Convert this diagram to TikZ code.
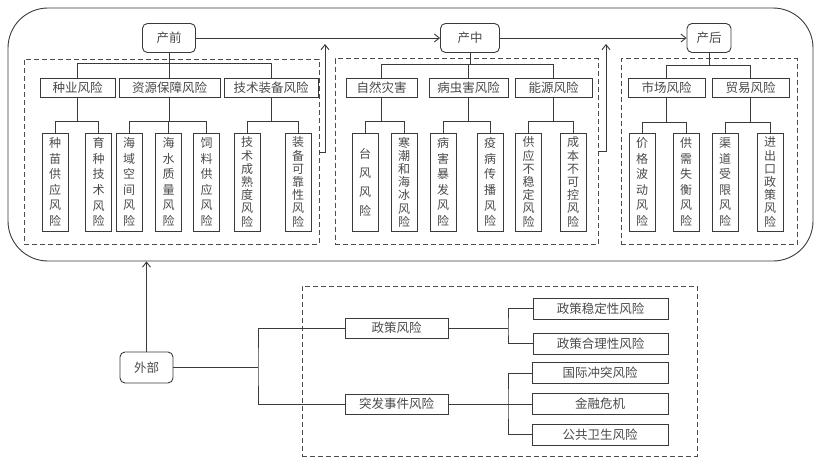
\documentclass[tikz,border=0pt]{standalone}
\usepackage{fontspec}
\newfontfamily\cjk{Noto Sans CJK SC}
\usetikzlibrary{arrows.meta}
\definecolor{ln}{HTML}{3A3A3A}
\definecolor{tx}{HTML}{4A4A4A}
\tikzset{
  base/.style={draw=ln, line width=0.9pt, text=tx, inner sep=1pt},
  stage/.style={base, rounded corners=5pt, minimum height=29pt, font=\cjk\fontsize{12.5}{14}\selectfont},
  cat/.style={base, minimum height=19pt, font=\cjk\fontsize{12.5}{14}\selectfont},
  leaf/.style={base, minimum width=26pt, minimum height=98pt, align=center, inner sep=0.5pt, font=\cjk\fontsize{12}{#1}\selectfont},
  leaf/.default=15.6,
  outbox/.style={base, minimum width=135pt, minimum height=21pt, font=\cjk\fontsize{12.5}{14}\selectfont},
  grp/.style={draw=black!70, dash pattern=on 5pt off 3pt, line width=0.8pt},
  link/.style={draw=ln, line width=0.9pt},
  arr/.style={link, -{Straight Barb[length=5pt,width=8pt]}},
}
\begin{document}
\begin{tikzpicture}[x=1pt, y=-1pt]
\useasboundingbox (0,0) rectangle (821,467);
% outer frame and dashed groups
\node[draw=ln, line width=0.9pt, rounded corners=40pt, minimum width=805pt, minimum height=253pt] (frame) at (410.5,134.5) {};
\node[grp, minimum width=295pt, minimum height=185pt] (g1) at (171.5,151.5) {};
\node[grp, minimum width=263pt, minimum height=186pt] (g2) at (466.5,151.5) {};
\node[grp, minimum width=176pt, minimum height=186pt] (g3) at (709,151.5) {};
\node[grp, minimum width=395pt, minimum height=170pt] (g4) at (499.5,371) {};

% stages
\node[stage, minimum width=53pt] (qian) at (169,38) {产前};
\node[stage, minimum width=59pt] (zhong) at (470,38) {产中};
\node[stage, minimum width=44pt] (hou) at (709,38) {产后};
\draw[arr] (qian.east) -- (zhong.west);
\draw[arr] (zhong.east) -- (hou.west);
\coordinate (t1) at (325,44);
\coordinate (t2) at (606,44);
\draw[arr] (g1.east |- 0,152) -| (t1);
\draw[arr] (g2.east |- 0,151) -| (t2);

% categories
\node[cat, minimum width=75pt] (zy) at (77.5,87.5) {种业风险};
\node[cat, minimum width=101pt] (zybz) at (169.5,87.5) {资源保障风险};
\node[cat, minimum width=94pt] (jszb) at (271,87.5) {技术装备风险};
\node[cat, minimum width=71pt] (zrzh) at (381.5,87.5) {自然灾害};
\node[cat, minimum width=79pt] (bch) at (468.5,87.5) {病虫害风险};
\node[cat, minimum width=77pt] (ny) at (553.5,87.5) {能源风险};
\node[cat, minimum width=77pt] (sc) at (666.5,87.5) {市场风险};
\node[cat, minimum width=77pt] (my) at (750.5,87.5) {贸易风险};

% leaves
\node[leaf] (zmgy) at (55,182) {种\\苗\\供\\应\\风\\险};
\node[leaf] (yzjs) at (98.5,182) {育\\种\\技\\术\\风\\险};
\node[leaf] (hykj) at (129,182) {海\\域\\空\\间\\风\\险};
\node[leaf] (hszl) at (168.5,182) {海\\水\\质\\量\\风\\险};
\node[leaf] (slgy) at (206.5,182) {饲\\料\\供\\应\\风\\险};
\node[leaf=13.2] (jscs) at (247,182) {技\\术\\成\\熟\\度\\风\\险};
\node[leaf=13.2] (zbkk) at (298,182) {装\\备\\可\\靠\\性\\风\\险};
\node[leaf=19] (tfyx) at (365,182) {台\\风\\风\\险};
\node[leaf=13.2] (hchb) at (404,182) {寒\\潮\\和\\海\\冰\\风\\险};
\node[leaf] (bhbf) at (443,182) {病\\害\\暴\\发\\风\\险};
\node[leaf] (ybcb) at (490,182) {疫\\病\\传\\播\\风\\险};
\node[leaf=13.2] (gybw) at (528.5,182) {供\\应\\不\\稳\\定\\风\\险};
\node[leaf=13.2] (cbbk) at (573,182) {成\\本\\不\\可\\控\\风\\险};
\node[leaf] (jgbd) at (642,182) {价\\格\\波\\动\\风\\险};
\node[leaf] (gxsh) at (686,182) {供\\需\\失\\衡\\风\\险};
\node[leaf] (qdsx) at (725,182) {渠\\道\\受\\限\\风\\险};
\node[leaf=13.2] (jckz) at (770,182) {进\\出\\口\\政\\策\\风\\险};

% stage -> category
\draw[link] (qian.south) -- (qian.south |- 0,63);
\draw[link] (zy.north) |- (jszb.north |- 0,63) -- (jszb.north);
\draw[link] (zybz.north) -- (zybz.north |- 0,63);
\draw[link] (zhong.south) -- (zhong.south |- 0,64);
\draw[link] (zrzh.north) |- (ny.north |- 0,64) -- (ny.north);
\draw[link] (bch.north) -- (bch.north |- 0,64);
\draw[link] (hou.south) -- (hou.south |- 0,65);
\draw[link] (sc.north) |- (my.north |- 0,65) -- (my.north);

% category -> leaves
\draw[link] (zy.south) -- (zy.south |- 0,121);
\draw[link] (zmgy.north) |- (yzjs.north |- 0,121) -- (yzjs.north);
\draw[link] (zybz.south) -- (zybz.south |- 0,121);
\draw[link] (hykj.north) |- (slgy.north |- 0,121) -- (slgy.north);
\draw[link] (hszl.north) -- (hszl.north |- 0,121);
\draw[link] (jszb.south) -- (jszb.south |- 0,121);
\draw[link] (jscs.north) |- (zbkk.north |- 0,121) -- (zbkk.north);
\draw[link] (zrzh.south) -- (zrzh.south |- 0,121);
\draw[link] (tfyx.north) |- (hchb.north |- 0,121) -- (hchb.north);
\draw[link] (bch.south) -- (bch.south |- 0,121);
\draw[link] (bhbf.north) |- (ybcb.north |- 0,121) -- (ybcb.north);
\draw[link] (ny.south) -- (ny.south |- 0,121);
\draw[link] (gybw.north) |- (cbbk.north |- 0,121) -- (cbbk.north);
\draw[link] (sc.south) -- (sc.south |- 0,122);
\draw[link] (jgbd.north) |- (gxsh.north |- 0,122) -- (gxsh.north);
\draw[link] (my.south) -- (my.south |- 0,122);
\draw[link] (qdsx.north) |- (jckz.north |- 0,122) -- (jckz.north);

% external risks
\node[stage, minimum width=53pt, minimum height=31pt] (wb) at (146.5,367.5) {外部};
\draw[arr] (wb.north) -- (wb.north |- frame.south);
\node[cat, minimum width=103pt, minimum height=20pt] (zc) at (396.5,328) {政策风险};
\node[cat, minimum width=103pt, minimum height=20pt] (tfsj) at (396.5,404) {突发事件风险};
\node[outbox] (zcwd) at (600.5,308.5) {政策稳定性风险};
\node[outbox] (zcql) at (600.5,343.5) {政策合理性风险};
\node[outbox, minimum width=136pt] (gjct) at (600,373) {国际冲突风险};
\node[outbox, minimum width=136pt] (jrwj) at (600,404) {金融危机};
\node[outbox, minimum width=136pt] (ggws) at (600,434.5) {公共卫生风险};
\coordinate (j1) at (258,367.5);
\coordinate (j2) at (508,328);
\coordinate (j3) at (508,404);
\draw[link] (wb.east) -- (j1);
\draw[link] (zc.west) -| (j1) |- (tfsj.west);
\draw[link] (zc.east) -- (j2);
\draw[link] (zcwd.west) -| (j2) |- (zcql.west);
\draw[link] (tfsj.east) -- (jrwj.west);
\draw[link] (gjct.west) -| (j3) |- (ggws.west);
\end{tikzpicture}
\end{document}
